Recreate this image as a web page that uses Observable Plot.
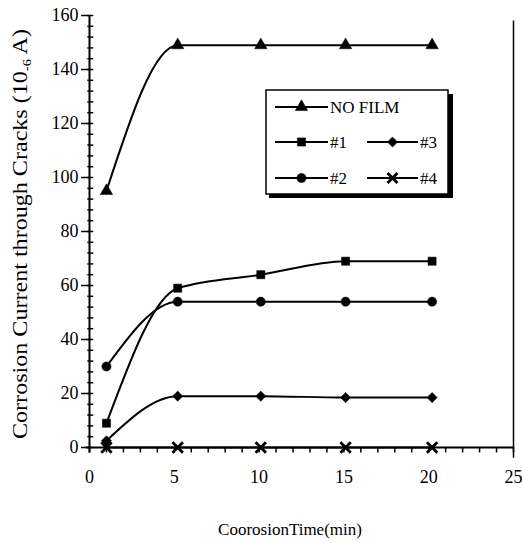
<!DOCTYPE html>
<html><head><meta charset="utf-8">
<script src="https://cdn.jsdelivr.net/npm/d3@7"></script>
<script src="https://cdn.jsdelivr.net/npm/@observablehq/plot@0.6"></script>
<style>
body{margin:0;background:#fff;}
#chart{width:523px;height:543px;}
</style>
</head><body><div id="chart"></div>
<script>
// ---- data ----
const times = [1, 5.2, 10.1, 15.1, 20.2];
const noFilm = [95, 149, 149, 149, 149];
const film1 = [9, 59, 64, 69, 69];
const film2 = [30, 54, 54, 54, 54];
const film3 = [2.5, 19, 19, 18.5, 18.5];
const film4 = [0, 0, 0, 0, 0];
const seriesNames = ["NO FILM", "#1", "#2", "#3", "#4"];
const seriesSymbols = ["triangle", "square", "circle", "diamond2", "times"];
const xTicks = [0, 5, 10, 15, 20, 25];
const yTicks = [0, 20, 40, 60, 80, 100, 120, 140, 160];
const xMinor = d3.range(0, 26, 1);
const yMinor = d3.range(0, 161, 4);
const xTitle = "CoorosionTime(min)";
const yTitle = "Corrosion Current through Cracks (10";
const yTitleSub = "-6";
const yTitleEnd = " A)";

const values = [noFilm, film1, film2, film3, film4];
const data = seriesNames.flatMap((name, i) => times.map((t, j) => ({series: name, time: t, value: values[i][j]})));

const font = "'Liberation Serif', 'Times New Roman', serif";

const plot = Plot.plot({
  width: 523,
  height: 543,
  marginLeft: 89,
  marginRight: 10,
  marginTop: 15,
  marginBottom: 96,
  style: {fontFamily: font, fontSize: "18px", color: "black", background: "white"},
  x: {domain: [0, 25]},
  y: {domain: [0, 160]},
  symbol: {domain: seriesNames, range: seriesSymbols},
  marks: [
    // minor ticks
    Plot.ruleX(xMinor, {y1: -2, y2: 0, stroke: "black", strokeWidth: 1.5}),
    Plot.ruleY(yMinor, {x1: -0.1, x2: 0.25, stroke: "black", strokeWidth: 1.5}),
    // axis lines and right border
    Plot.ruleX([0], {y1: -2, y2: 160, stroke: "black", strokeWidth: 2}),
    Plot.ruleY([0], {x1: -0.2, x2: 25, stroke: "black", strokeWidth: 2}),
    Plot.ruleX([25], {y1: -4, y2: 158, stroke: "black", strokeWidth: 1.5}),
    Plot.axisX({ticks: xTicks, tickSize: 0, tickPadding: 23, label: null}),
    Plot.axisY({ticks: yTicks, tickSize: 8, tickPadding: 3, strokeWidth: 1.5, label: null}),
    // series
    Plot.line(data, {x: "time", y: "value", z: "series", curve: "monotone-x", stroke: "black", strokeWidth: 2}),
    Plot.dot(data.filter(d => d.series !== "#4"), {x: "time", y: "value", symbol: "series", fill: "black", stroke: "black", strokeWidth: 0.5, r: 4.6}),
    Plot.dot(data.filter(d => d.series === "#4"), {x: "time", y: "value", symbol: "series", stroke: "black", strokeWidth: 2.8, r: 4.8})
  ]
});

const svg = d3.select(plot);
// axis titles
const yt = svg.append("text")
  .attr("transform", "translate(27,234) rotate(-90)")
  .attr("text-anchor", "middle")
  .attr("font-size", 20)
  .attr("textLength", 410)
  .attr("lengthAdjust", "spacingAndGlyphs")
  .attr("fill", "black");
yt.append("tspan").text(yTitle);
yt.append("tspan").attr("font-size", 12).attr("dy", 4).text(yTitleSub);
yt.append("tspan").attr("dy", -4).text(yTitleEnd);

svg.append("text")
  .attr("x", 290).attr("y", 535)
  .attr("text-anchor", "middle")
  .attr("font-size", 17)
  .attr("fill", "black")
  .text(xTitle);

// ---- legend (inside the plot svg) ----
const lg = svg.append("g").attr("transform", "translate(262,86)")
  .attr("font-family", font).attr("text-anchor", "start");
// drop shadow
lg.append("line").attr("x1", 7).attr("x2", 191).attr("y1", 109.5).attr("y2", 109.5).attr("stroke", "black").attr("stroke-width", 5);
lg.append("line").attr("x1", 188.5).attr("x2", 188.5).attr("y1", 8).attr("y2", 112).attr("stroke", "black").attr("stroke-width", 5);
lg.append("rect").attr("x", 4).attr("y", 4).attr("width", 182).attr("height", 104)
  .attr("fill", "white").attr("stroke", "black").attr("stroke-width", 1.5);

const symMap = {triangle: d3.symbolTriangle, square: d3.symbolSquare, circle: d3.symbolCircle, diamond2: d3.symbolDiamond2, times: d3.symbolTimes};
const legendItems = [
  {name: seriesNames[0], sym: seriesSymbols[0], x: 13, y: 21, w: 53},
  {name: seriesNames[1], sym: seriesSymbols[1], x: 13, y: 56, w: 53},
  {name: seriesNames[3], sym: seriesSymbols[3], x: 105, y: 56, w: 51},
  {name: seriesNames[2], sym: seriesSymbols[2], x: 13, y: 92, w: 53},
  {name: seriesNames[4], sym: seriesSymbols[4], x: 105, y: 92, w: 51}
];
for (const it of legendItems) {
  const g = lg.append("g");
  g.append("line").attr("x1", it.x).attr("x2", it.x + it.w).attr("y1", it.y).attr("y2", it.y)
    .attr("stroke", "black").attr("stroke-width", 2);
  const path = d3.symbol(symMap[it.sym], Math.PI * 4.6 * 4.6)();
  const p = g.append("path").attr("d", path).attr("transform", `translate(${it.x + it.w / 2},${it.y})`);
  if (it.sym === "times") p.attr("fill", "none").attr("stroke", "black").attr("stroke-width", 2.8);
  else p.attr("fill", "black").attr("stroke", "black").attr("stroke-width", 0.5);
  g.append("text").attr("x", it.x + it.w + 2).attr("y", it.y).attr("dy", "0.35em")
    .attr("font-size", 17).attr("fill", "black").attr("text-anchor", "start").text(it.name);
}

document.getElementById("chart").appendChild(plot);
</script>
</body></html>
